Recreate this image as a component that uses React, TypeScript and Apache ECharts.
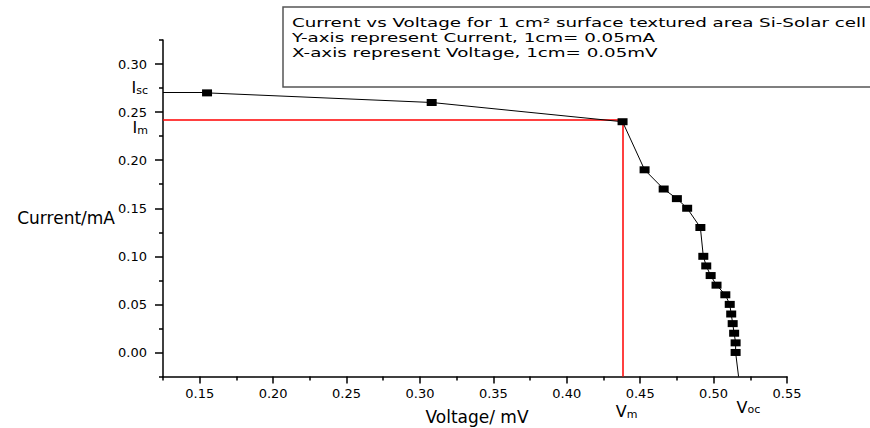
import React, { useEffect, useRef } from "react";
import * as echarts from "echarts";

// Measured I-V points of the solar cell
const voltage = [0.155, 0.308, 0.438, 0.453, 0.466, 0.475, 0.482, 0.491, 0.493, 0.495, 0.498, 0.502, 0.508, 0.511, 0.512, 0.513, 0.514, 0.515, 0.515];
const current = [0.27, 0.26, 0.24, 0.19, 0.17, 0.16, 0.15, 0.13, 0.1, 0.09, 0.08, 0.07, 0.06, 0.05, 0.04, 0.03, 0.02, 0.01, 0.0];

// Axis ranges and ticks
const xRange = [0.125, 0.55];
const yRange = [-0.025, 0.325];
const xMajorTicks = [0.15, 0.2, 0.25, 0.3, 0.35, 0.4, 0.45, 0.5, 0.55];
const xMinorTicks = [0.125, 0.175, 0.225, 0.275, 0.325, 0.375, 0.425, 0.475, 0.525];
const yMajorTicks = [0, 0.05, 0.1, 0.15, 0.2, 0.25, 0.3];
const yMinorTicks = [-0.025, 0.025, 0.075, 0.125, 0.175, 0.225, 0.275, 0.325];

// Characteristic values
const iscValue = 0.271;
const vmValue = 0.438;
const imValue = 0.242;
const vocValue = 0.517;

const titleLines = [
  "Current vs Voltage for 1 cm² surface textured area Si-Solar cell",
  "Y-axis represent Current, 1cm= 0.05mA",
  "X-axis represent Voltage, 1cm= 0.05mV",
];

export default function App() {
  const ref = useRef<HTMLDivElement>(null);
  useEffect(() => {
    if (!ref.current) return;
    const chart = echarts.init(ref.current, null, { renderer: "svg" });
    const font = "DejaVu Sans";
    const points = voltage.map((v, i) => [v, current[i]]);
    const last = points.length - 1;
    const rich = {
      b: { fontSize: 16, fontFamily: font, color: "#000" },
      s: { fontSize: 11, fontFamily: font, color: "#000", verticalAlign: "bottom" },
    };
    const axisLineStyle = { color: "#000", width: 1.5 };
    const redLine = { color: "#ff0000", width: 1.5, type: "solid", opacity: 1 };
    const blackLine = { color: "#000", width: 1, type: "solid", opacity: 1 };
    const tickFmt = (v: number) => v.toFixed(2);

    chart.setOption({
      animation: false,
      backgroundColor: "#fff",
      grid: { left: 163, right: 83, top: 40, bottom: 51.5, outerBoundsMode: "none", containLabel: false },
      xAxis: [
        {
          type: "value",
          min: xRange[0],
          max: xRange[1],
          position: "bottom",
          name: "Voltage/ mV",
          nameLocation: "middle",
          nameGap: 32,
          nameMoveOverlap: false,
          nameTextStyle: { fontFamily: font, fontSize: 17, color: "#000", padding: [0, 0, 0, 4] },
          axisLine: { show: true, onZero: false, lineStyle: axisLineStyle },
          axisTick: { show: true, customValues: xMajorTicks, length: 7, lineStyle: axisLineStyle },
          axisLabel: { customValues: xMajorTicks, margin: 10, formatter: tickFmt, fontFamily: font, fontSize: 13, color: "#000" },
          splitLine: { show: false },
        },
        {
          type: "value",
          min: xRange[0],
          max: xRange[1],
          position: "bottom",
          axisLine: { show: false, onZero: false },
          axisTick: { show: true, customValues: xMinorTicks, length: 4, lineStyle: axisLineStyle },
          axisLabel: { show: false },
          splitLine: { show: false },
        },
      ],
      yAxis: [
        {
          type: "value",
          min: yRange[0],
          max: yRange[1],
          position: "left",
          name: "Current/mA",
          nameLocation: "middle",
          nameRotate: 0,
          nameGap: 48,
          nameMoveOverlap: false,
          nameTextStyle: { fontFamily: font, fontSize: 17, color: "#000", verticalAlign: "top", padding: [1, 0, 0, 0] },
          axisLine: { show: true, onZero: false, lineStyle: axisLineStyle },
          axisTick: { show: true, customValues: yMajorTicks, length: 8, lineStyle: axisLineStyle },
          axisLabel: { customValues: yMajorTicks, margin: 16, formatter: tickFmt, fontFamily: font, fontSize: 13, color: "#000" },
          splitLine: { show: false },
        },
        {
          type: "value",
          min: yRange[0],
          max: yRange[1],
          position: "left",
          axisLine: { show: false, onZero: false },
          axisTick: { show: true, customValues: yMinorTicks, length: 4, lineStyle: axisLineStyle },
          axisLabel: { show: false },
          splitLine: { show: false },
        },
      ],
      series: [
        {
          type: "line",
          xAxisIndex: 0,
          yAxisIndex: 0,
          data: points,
          symbol: "rect",
          symbolSize: [10, 7],
          itemStyle: { color: "#000" },
          lineStyle: { color: "#000", width: 1 },
          z: 5,
          markLine: {
            silent: true,
            symbol: ["none", "none"],
            z: 3,
            data: [
              [
                {
                  coord: [xRange[0], iscValue],
                  lineStyle: blackLine,
                  label: { show: true, position: "start", distance: 15, formatter: "{b|I}{s|sc}", rich, padding: [0, 0, 8, 0] },
                },
                { coord: [voltage[0], iscValue], lineStyle: blackLine },
              ],
              [
                {
                  coord: [xRange[0], imValue],
                  lineStyle: redLine,
                  label: { show: true, position: "start", distance: 15, formatter: "{b|I}{s|m}", rich, verticalAlign: "top" },
                },
                { coord: [vmValue, imValue], lineStyle: redLine },
              ],
              [
                {
                  coord: [vmValue, yRange[0]],
                  lineStyle: redLine,
                  label: { show: true, position: "start", distance: 27, formatter: "{b|V}{s|m}", rich, padding: [0, 0, 0, 8] },
                },
                { coord: [vmValue, imValue], lineStyle: redLine },
              ],
              [
                {
                  coord: points[last],
                  lineStyle: blackLine,
                  label: { show: true, position: "end", distance: 23, formatter: "{b|V}{s|oc}", rich, padding: [0, 0, 0, 14] },
                },
                { coord: [vocValue, yRange[0]], lineStyle: blackLine },
              ],
            ],
          },
        },
      ],
      graphic: [
        {
          type: "rect",
          z: 10,
          shape: { x: 283, y: 7, width: 600, height: 80 },
          style: { fill: "#fff", stroke: "#555", lineWidth: 1.5 },
        },
        ...titleLines.map((t, i) => ({
          type: "text",
          z: 11,
          x: 292,
          y: 22 + i * 15,
          scaleX: 1.405,
          style: { text: t, fontFamily: font, fontSize: 13, fill: "#000", verticalAlign: "middle" },
        })),
      ],
    });
    return () => chart.dispose();
  }, []);
  return <div ref={ref} style={{ position: "absolute", left: 0, top: 0, width: 870, height: 428 }} />;
}
